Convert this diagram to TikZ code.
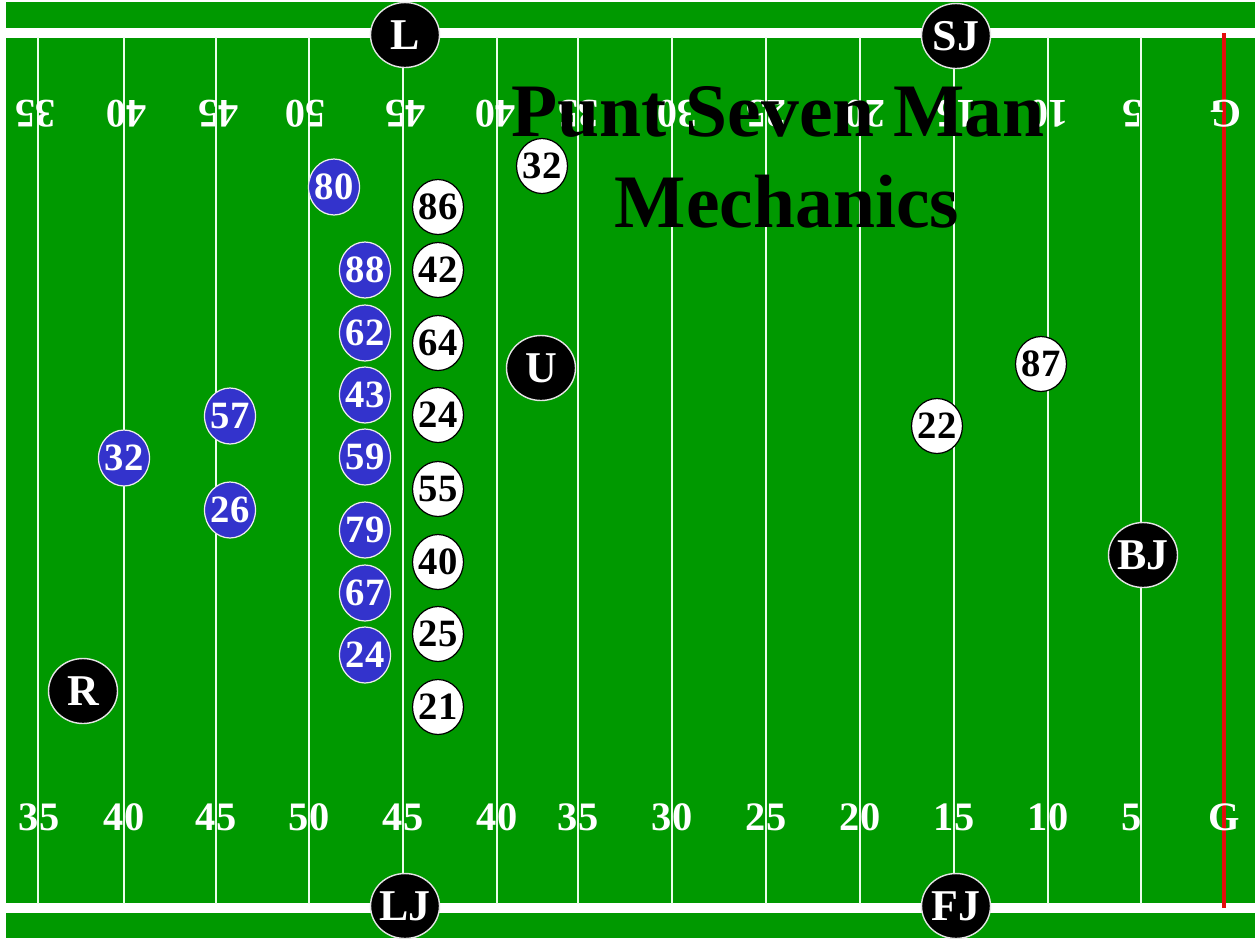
\documentclass[tikz,border=0pt]{standalone}
\usepackage{fontspec}
\setmainfont{Liberation Serif}
\usetikzlibrary{shapes.geometric}
\definecolor{field}{RGB}{0,153,0}
\definecolor{team}{RGB}{51,51,204}
\definecolor{goalred}{RGB}{228,12,12}
\newcommand\zbx[1]{\makebox[0pt]{#1}}
\begin{document}
\begin{tikzpicture}[x=0.02cm,y=-0.02cm,
  yardline/.style={draw=white!92!green, line width=0.85pt},
  yardnum/.style={text=white, inner sep=0pt, font=\fontsize{23}{23}\selectfont\bfseries},
  titletext/.style={text=black, inner sep=0pt, font=\fontsize{43}{43}\selectfont\bfseries},
  offp/.style={ellipse, fill=team, draw=white!85!gray, line width=0.7pt, inner sep=0pt,
    minimum width=1.02cm, minimum height=1.12cm, text=white, font=\fontsize{22}{22}\selectfont\bfseries},
  defp/.style={ellipse, fill=white, draw=black, line width=0.7pt, inner sep=0pt,
    minimum width=1.02cm, minimum height=1.1cm, text=black, font=\fontsize{22}{22}\selectfont\bfseries},
  offl/.style={ellipse, fill=black, draw=white!80!gray, line width=0.8pt, inner sep=0pt,
    minimum width=1.38cm, minimum height=1.3cm, text=white, font=\fontsize{25}{25}\selectfont\bfseries}]
\useasboundingbox (0,0) rectangle (1255,938);
\fill[white] (0,0) rectangle (1255,938);
\fill[field] (6,2) rectangle (1255,938);
% sidelines
\fill[white] (6,28) rectangle (1255,38);
\fill[white] (6,903) rectangle (1255,913);
% yard lines
\foreach \xx in {38,124,216,309,403,497,578,672,766,860,954,1048,1141}
  \draw[yardline] (\xx,37) -- (\xx,904);
\draw[goalred, line width=2.3pt] (1224,33) -- (1224,908);
% bottom yard numbers
\foreach \xx/\nn in {39/35,124/40,216/45,309/50,403/45,497/40,578/35,672/30,766/25,860/20,954/15,1048/10,1132/5,1224/G}
  \node[yardnum] at (\xx,817) {\nn};
% top yard numbers (upside down)
\foreach \xx/\nn in {35/35,126/40,218/45,305/50,405/45,495/40,578/35,677/30,766/25,865/20,956/15,1048/10,1132/5,1226/G}
  \node[yardnum, rotate=180] at (\xx,114) {\nn};
% title
\node[titletext, anchor=base] (t1) at (778,136) {Punt Seven Man};
\node[titletext, anchor=base] (t2) at (787,227) {Mechanics};
% offense (blue)
\node[offp] (o80) at (334,187) {\zbx{80}};
\node[offp] (o88) at (365,270) {\zbx{88}};
\node[offp] (o62) at (365,333) {\zbx{62}};
\node[offp] (o43) at (365,395) {\zbx{43}};
\node[offp] (o59) at (365,457) {\zbx{59}};
\node[offp] (o79) at (365,530) {\zbx{79}};
\node[offp] (o67) at (365,593) {\zbx{67}};
\node[offp] (o24) at (365,655) {\zbx{24}};
\node[offp] (o57) at (230,416) {\zbx{57}};
\node[offp] (o32) at (124,458) {\zbx{32}};
\node[offp] (o26) at (230,510) {\zbx{26}};
% defense (white)
\node[defp] (d32) at (542,166) {\zbx{32}};
\node[defp] (d86) at (438,207) {\zbx{86}};
\node[defp] (d42) at (438,270) {\zbx{42}};
\node[defp] (d64) at (438,343) {\zbx{64}};
\node[defp] (d24) at (438,415) {\zbx{24}};
\node[defp] (d55) at (438,489) {\zbx{55}};
\node[defp] (d40) at (438,562) {\zbx{40}};
\node[defp] (d25) at (438,634) {\zbx{25}};
\node[defp] (d21) at (438,707) {\zbx{21}};
\node[defp] (d87) at (1041,364) {\zbx{87}};
\node[defp] (d22) at (937,426) {\zbx{22}};
% officials
\node[offl] (L) at (405,35) {\zbx{L}};
\node[offl] (SJ) at (956,36) {\zbx{SJ}};
\node[offl] (LJ) at (405,906) {\zbx{LJ}};
\node[offl] (FJ) at (956,906) {\zbx{FJ}};
\node[offl] (U) at (541,368) {\zbx{U}};
\node[offl] (R) at (83,691) {\zbx{R}};
\node[offl] (BJ) at (1143,555) {\zbx{BJ}};
\end{tikzpicture}
\end{document}
